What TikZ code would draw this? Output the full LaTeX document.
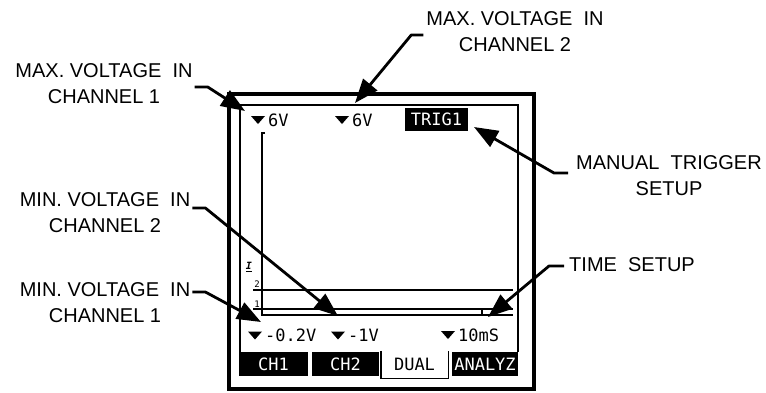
\documentclass[tikz,border=0pt]{standalone}
\usepackage{fontspec}
\setmainfont{Liberation Sans}
\newfontfamily\lcdfont{DejaVu Sans Mono}
\usetikzlibrary{arrows.meta}
\tikzset{
  callout/.style={font=\fontsize{20}{26}\selectfont, align=center, inner sep=2pt},
  leader/.style={line width=2.8, line join=round, -{Triangle[length=24pt,width=18pt]}},
  lcd/.style={font=\lcdfont\fontsize{17}{17}\selectfont, inner sep=0pt, anchor=west},
  tabon/.style={lcd, anchor=center, fill=black, text=white, minimum width=68, minimum height=24},
}

\begin{document}
\begin{tikzpicture}[x=1pt, y=-1pt, line cap=butt]
  \fill[white] (0,0) rectangle (766,392);
  \useasboundingbox (0,0) rectangle (766,392);
  % display frame
  \draw[line width=4] (229,94) rectangle (533.5,388.5);
  \draw[line width=1.4] (240,352) -- (240,105) -- (518,105) -- (518,352);
  % traces + axis
  \draw[line width=1.4] (265,133) -- (262,133) -- (262,315) -- (513,315);
  \draw[line width=1.4] (253,290) -- (513,290);
  \draw[line width=1.4] (253,309) -- (513,309);
  \draw[line width=1.2] (482,309) -- (482,315);
  \node[lcd, anchor=center, font=\lcdfont\fontsize{9}{9}\selectfont] (lvl2) at (257,284) {2};
  \node[lcd, anchor=center, font=\lcdfont\fontsize{9}{9}\selectfont] (lvl1) at (257,304) {1};
  \node[lcd, anchor=center, font=\lcdfont\bfseries\fontsize{10}{10}\selectfont] (trglvl) at (249,267) {\underline{\itshape I}};
  % readouts
  \node[lcd] (vmax1) at (268,120) {6V};
  \node[lcd] (vmax2) at (352,120) {6V};
  \node[tabon, minimum width=63, minimum height=23] (trig) at (436.5,119.5) {TRIG1};
  \node[lcd] (vmin1) at (265,335.5) {-0.2V};
  \node[lcd] (vmin2) at (348,335.5) {-1V};
  \node[lcd] (vtime) at (458,335) {10mS};
  \foreach \v in {vmax1,vmax2,vmin1,vmin2,vtime} { \fill (\v.west) ++(-17,-4) -- ++(14,0) -- ++(-7,8) -- cycle; }
  % soft keys
  \node[tabon, minimum width=69] (tabch1) at (273.5,364) {CH1};
  \node[tabon, minimum width=67] (tabch2) at (345.5,364) {CH2};
  \node[tabon, fill=white, text=black, minimum width=67, minimum height=27] (tabdual) at (414.5,364.5) {DUAL};
  \draw[line width=1.4] (tabdual.north west) -- (tabdual.south west) -- (tabdual.south east) -- (tabdual.north east);
  \node[tabon, minimum width=66] (tabanlz) at (485,364) {ANALYZ};
  % callouts
  \node[callout] (lblmax1) at (104,83.5) {MAX. VOLTAGE~~IN\\CHANNEL 1};
  \node[callout] (lblmax2) at (515,32) {MAX. VOLTAGE~~IN\\CHANNEL 2};
  \node[callout] (lbltrig) at (669,176) {MANUAL~~TRIGGER\\SETUP};
  \node[callout] (lblmin2) at (105,212.5) {MIN. VOLTAGE~~IN\\CHANNEL 2};
  \node[callout] (lblmin1) at (105,302.5) {MIN. VOLTAGE~~IN\\CHANNEL 1};
  \node[callout] (lbltime) at (632,265) {TIME~~SETUP};
  \coordinate (tipmax1) at (245,111);
  \coordinate (tipmax2) at (355,103);
  \coordinate (tiptrig) at (474,127);
  \coordinate (tipmin2) at (338,316);
  \coordinate (tipmin1) at (261,322);
  \coordinate (tiptime) at (488,317);
  \draw[leader] (lblmax1.east) ++(0,3.5) -- ++(13,0) -- (tipmax1);
  \draw[leader] (lblmax2.west) ++(-1,3) -- ++(-12,0) -- (tipmax2);
  \draw[leader] (lbltrig.west) ++(-6,-3) -- ++(-14,0) -- (tiptrig);
  \draw[leader] (lblmin2.east) ++(0,-4.5) -- ++(13,0) -- (tipmin2);
  \draw[leader] (lblmin1.east) ++(0,-10.5) -- ++(13,0) -- (tipmin1);
  \draw[leader] (lbltime.west) ++(-3,1) -- ++(-15,0) -- (tiptime);
\end{tikzpicture}
\end{document}
